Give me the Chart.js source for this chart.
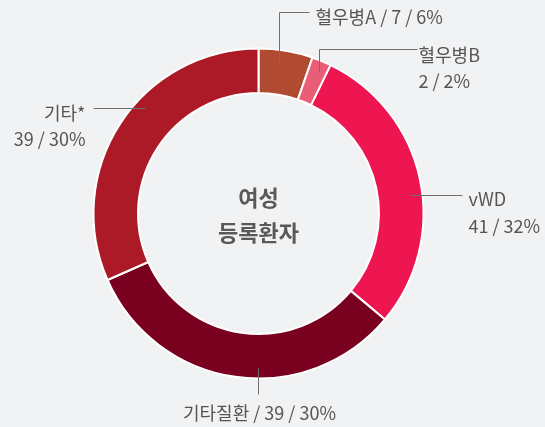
<!DOCTYPE html>
<html><head><meta charset="utf-8">
<script src="https://cdn.jsdelivr.net/npm/chart.js@4/dist/chart.umd.min.js"></script>
<style>
html,body{margin:0;padding:0;background:#f1f2f4;}
#wrap{width:545px;height:427px;position:relative;}
</style></head>
<body><div id="wrap"><canvas id="c" width="545" height="427"></canvas></div>
<script>
const categories = ['혈우병A', '혈우병B', 'vWD', '기타질환', '기타*'];
const patients = [7, 2, 41, 39, 39];
const percents = [6, 2, 32, 30, 30];
// ring share of each segment as drawn in the picture (percent of the circle)
const arcShares = [5.3, 1.9, 28.9, 32.3, 31.6];
const colors = ['#b04a30', '#e95d77', '#ee1651', '#7a0020', '#ac1a27'];
const centerTitle = ['여성', '등록환자'];

// label layout (relative to doughnut centre): leader path points and text anchor
const labelLayout = [
  {path: [[20.5,-147.5],[20.5,-201.5],[50.5,-201.5]], lines: i => [`${categories[i]} / ${patients[i]} / ${percents[i]}%`], tx: 57, ty: -196, align: 'left'},
  {path: [[60.5,-141.5],[60.5,-164.5],[158.5,-164.5]], lines: i => [categories[i], `${patients[i]} / ${percents[i]}%`], tx: 160, ty: -158, align: 'left', lh: 26},
  {path: [[151.5,-18.5],[203.5,-18.5]], lines: i => [categories[i], `${patients[i]} / ${percents[i]}%`], tx: 210, ty: -14, align: 'left', lh: 27},
  {path: [[-0.5,154.5],[-0.5,180.5]], lines: i => [`${categories[i]} / ${patients[i]} / ${percents[i]}%`], tx: 1, ty: 200, align: 'center'},
  {path: [[-113.5,-105.5],[-165.5,-105.5]], lines: i => [categories[i], `${patients[i]} / ${percents[i]}%`], tx: -173, ty: -100, align: 'right', lh: 26}
];

const labelPlugin = {
  id: 'leaderLabels',
  afterDatasetsDraw(chart) {
    const ctx = chart.ctx;
    const meta = chart.getDatasetMeta(0);
    const arc0 = meta.data[0];
    const cx = arc0.x, cy = arc0.y;
    ctx.save();
    meta.data.forEach((arc, i) => {
      const L = labelLayout[i];
      ctx.strokeStyle = '#707070';
      ctx.lineWidth = 1;
      ctx.beginPath();
      L.path.forEach((p, k) => {
        const x = Math.round(cx + p[0]) + 0.5, y = Math.round(cy + p[1]) + 0.5;
        if (k === 0) ctx.moveTo(x, y); else ctx.lineTo(x, y);
      });
      ctx.stroke();
      ctx.fillStyle = '#555';
      ctx.font = '400 18px "Noto Sans CJK KR", "Noto Sans", sans-serif';
      ctx.textAlign = L.align;
      ctx.textBaseline = 'middle';
      L.lines(i).forEach((t, k) => {
        ctx.fillText(t, cx + L.tx, cy + L.ty + k * (L.lh || 0));
      });
    });
    ctx.font = '700 22px "Noto Sans CJK KR", "Noto Sans", sans-serif';
    ctx.fillStyle = '#595959';
    ctx.textAlign = 'center';
    ctx.textBaseline = 'middle';
    ctx.fillText(centerTitle[0], cx, cy - 16);
    ctx.fillText(centerTitle[1], cx, cy + 19);
    ctx.restore();
  }
};

new Chart(document.getElementById('c'), {
  type: 'doughnut',
  data: {
    labels: categories,
    datasets: [{
      data: arcShares,
      backgroundColor: colors,
      borderColor: '#ffffff',
      borderWidth: 2,
      hoverOffset: 0
    }]
  },
  options: {
    responsive: false,
    animation: false,
    cutout: '73%',
    layout: {padding: {left: 92.5, right: 120.5, top: 47.5, bottom: 47.5}},
    plugins: {legend: {display: false}, tooltip: {enabled: false}}
  },
  plugins: [labelPlugin]
});
</script>
</body></html>
